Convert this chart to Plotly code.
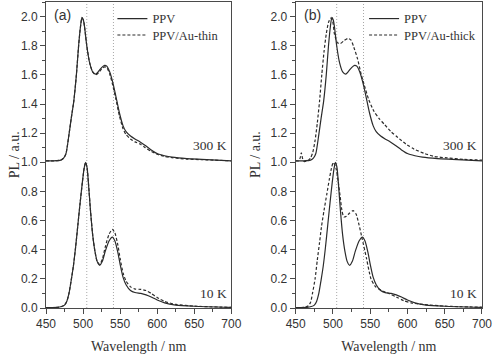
import plotly.graph_objects as go

# ---------------- data ----------------
ppv300_wl = [450, 460, 470, 474, 477, 481, 484, 487.5, 491, 494, 496.5, 498.5, 500.5, 502, 505,
             509, 513, 517, 521, 525, 529, 532, 536, 540, 544, 549, 554, 558, 564, 570,
             577, 584, 592, 600, 610, 620, 640, 660, 700]
ppv300 = [1.01, 1.01, 1.015, 1.03, 1.06, 1.19, 1.30, 1.42, 1.60, 1.80, 1.93, 1.995, 1.975, 1.93, 1.80,
          1.68, 1.62, 1.605, 1.625, 1.65, 1.665, 1.66, 1.62, 1.55, 1.46, 1.34, 1.25, 1.21, 1.18, 1.16,
          1.14, 1.115, 1.085, 1.06, 1.045, 1.035, 1.025, 1.02, 1.01]
thin300 = [1.01, 1.01, 1.015, 1.03, 1.06, 1.19, 1.30, 1.42, 1.60, 1.80, 1.93, 1.99, 1.975, 1.93, 1.80,
           1.68, 1.62, 1.60, 1.615, 1.64, 1.655, 1.65, 1.605, 1.53, 1.44, 1.32, 1.23, 1.19, 1.16, 1.14,
           1.125, 1.10, 1.075, 1.055, 1.04, 1.032, 1.022, 1.018, 1.01]

ppv10_wl = [450, 465, 471, 475, 478, 481, 484, 487, 490, 493, 496, 499, 501.5, 503.5, 505.5,
            507.5, 510, 513, 516, 519, 522.5, 526, 530, 535, 539.5, 543, 547, 550, 554, 558,
            564, 570, 578, 585, 592, 600, 610, 625, 650, 700]
ppv10 = [0.003, 0.004, 0.01, 0.02, 0.045, 0.1, 0.19, 0.29, 0.42, 0.57, 0.72, 0.86, 0.96, 1.0, 0.96,
         0.84, 0.67, 0.5, 0.39, 0.32, 0.293, 0.32, 0.39, 0.46, 0.487, 0.46, 0.38, 0.3, 0.21, 0.16,
         0.12, 0.106, 0.1, 0.09, 0.075, 0.055, 0.035, 0.02, 0.012, 0.004]
thin10 = [0.003, 0.004, 0.01, 0.02, 0.045, 0.1, 0.19, 0.29, 0.42, 0.57, 0.72, 0.86, 0.96, 1.0, 0.96,
          0.84, 0.67, 0.5, 0.39, 0.32, 0.30, 0.335, 0.42, 0.505, 0.54, 0.515, 0.43, 0.34, 0.24, 0.185,
          0.145, 0.13, 0.128, 0.12, 0.1, 0.072, 0.045, 0.025, 0.013, 0.004]

thick300_wl = [450, 454, 456, 457.5, 459, 461, 466, 470, 473, 476, 479, 482, 485, 488, 491,
               494, 497, 499.5, 502, 506, 510, 515, 520, 524, 528, 533, 538, 542, 548, 555,
               562, 569, 578, 587, 598, 609, 623, 636, 653, 675, 700]
thick300 = [1.01, 1.01, 1.03, 1.065, 1.03, 1.005, 1.01, 1.03, 1.07, 1.15, 1.27, 1.42, 1.6, 1.76, 1.88,
            1.96, 1.99, 1.97, 1.88, 1.82, 1.815, 1.835, 1.85, 1.84, 1.79, 1.71, 1.6, 1.53, 1.43, 1.35,
            1.3, 1.26, 1.21, 1.17, 1.125, 1.09, 1.06, 1.04, 1.03, 1.02, 1.015]

thick10_wl = [450, 462, 467, 470, 472.5, 476, 479, 482, 484.5, 488, 491.7, 495, 498, 500.5, 504,
              507, 509.5, 512, 514.5, 518, 522, 527, 531, 535, 539, 545, 551, 557, 565, 575,
              585, 595, 605, 620, 650, 700]
thick10 = [0.003, 0.005, 0.015, 0.04, 0.1, 0.2, 0.33, 0.45, 0.555, 0.67, 0.78, 0.88, 0.96, 1.0, 0.96,
           0.87, 0.77, 0.67, 0.625, 0.63, 0.65, 0.668, 0.645, 0.57, 0.48, 0.34, 0.2, 0.147, 0.12, 0.1,
           0.075, 0.05, 0.035, 0.025, 0.013, 0.005]

marker_lines = [505, 541]
panel_labels = ["(a)", "(b)"]
legend_names = [["PPV", "PPV/Au-thin"], ["PPV", "PPV/Au-thick"]]
temp_labels = ["300 K", "10 K"]
x_ticks = [450, 500, 550, 600, 650, 700]
y_ticks = [0.0, 0.2, 0.4, 0.6, 0.8, 1.0, 1.2, 1.4, 1.6, 1.8, 2.0]
x_title = "Wavelength / nm"
y_title = "PL / a.u."

# ---------------- styling ----------------
W, H = 493, 355
ML, MR, MT, MB = 46, 7, 1, 47
PW = W - ML - MR
PH = H - MT - MB
CURVE = "#2b2b2b"
AX = "#4a4a4a"
TXT = "#333333"
SERIF = "Liberation Serif"
SANS = "Liberation Sans"

def px_x(p):
    return (p - ML) / PW

def px_y(p):
    return (H - MB - p) / PH

dom1 = [0, px_x(233)]
dom2 = [px_x(298), 1]

fig = go.Figure()

def add(xs, ys, xa, ya, dash, name=None, legend=None):
    fig.add_trace(go.Scatter(
        x=xs, y=ys, xaxis=xa, yaxis=ya, mode="lines",
        line=dict(color=CURVE, width=1.2, dash=dash, shape="spline", smoothing=0.6),
        name=name or "", showlegend=legend is not None, legend=legend,
        hoverinfo="skip"))

# panel (a)
add(ppv300_wl, ppv300, "x", "y", "solid", legend_names[0][0], "legend")
add(ppv300_wl, thin300, "x", "y", "3px,2px", legend_names[0][1], "legend2")
add(ppv10_wl, ppv10, "x", "y", "solid")
add(ppv10_wl, thin10, "x", "y", "3px,2px")
# panel (b)
add(ppv300_wl, ppv300, "x2", "y2", "solid", legend_names[1][0], "legend3")
add(thick300_wl, thick300, "x2", "y2", "3px,2px", legend_names[1][1], "legend4")
add(ppv10_wl, ppv10, "x2", "y2", "solid")
add(thick10_wl, thick10, "x2", "y2", "3px,2px")

def xaxis(dom, anchor):
    return dict(domain=dom, anchor=anchor, range=[450, 700], tickvals=x_ticks,
                ticks="outside", ticklen=5, tickwidth=1, tickcolor=AX,
                minor=dict(dtick=25, ticks="outside", ticklen=3, tickcolor=AX, showgrid=False),
                showline=True, linecolor=AX, linewidth=1, mirror=True, showgrid=False,
                zeroline=False, tickfont=dict(family=SANS, size=12, color=TXT),
                title=dict(text=x_title, font=dict(family=SERIF, size=14, color=TXT),
                           standoff=10))

def yaxis(anchor):
    return dict(domain=[0, 1], anchor=anchor, range=[0, 2.1], tickvals=y_ticks,
                tickformat=".1f",
                ticks="outside", ticklen=5, tickwidth=1, tickcolor=AX,
                minor=dict(dtick=0.1, ticks="outside", ticklen=3, tickcolor=AX, showgrid=False),
                showline=True, linecolor=AX, linewidth=1, mirror=True, showgrid=False,
                zeroline=False, tickfont=dict(family=SANS, size=12, color=TXT))

shapes = []
for xa in ["x", "x2"]:
    for v in marker_lines:
        shapes.append(dict(type="line", xref=xa, yref="paper", x0=v, x1=v, y0=0, y1=1,
                           line=dict(color="#a8a8a8", width=1, dash="1px,2px"), layer="below"))

annotations = []
for i, xa in enumerate(["x", "x2"]):
    annotations.append(dict(text=panel_labels[i], xref=f"{xa} domain", yref="paper",
                            x=0.032, y=px_y(14), xanchor="left", yanchor="middle",
                            showarrow=False, font=dict(family=SANS, size=14, color=TXT)))
    annotations.append(dict(text=temp_labels[0], xref=f"{xa} domain", yref="paper",
                            x=0.985, y=px_y(145), xanchor="right", yanchor="middle",
                            showarrow=False, font=dict(family=SERIF, size=13.5, color=TXT)))
    annotations.append(dict(text=temp_labels[1], xref=f"{xa} domain", yref="paper",
                            x=0.985, y=px_y(293), xanchor="right", yanchor="middle",
                            showarrow=False, font=dict(family=SERIF, size=13.5, color=TXT)))
# y-axis titles
for cx in [14, 257]:
    annotations.append(dict(text=y_title, xref="paper", yref="paper", x=px_x(cx), y=0.5,
                            xanchor="center", yanchor="middle", textangle=-90,
                            showarrow=False, font=dict(family=SERIF, size=14, color=TXT)))

def leg(xpx, ypx):
    return dict(x=px_x(xpx), y=px_y(ypx), xanchor="left", yanchor="middle",
                bgcolor="rgba(0,0,0,0)", borderwidth=0,
                font=dict(family=SERIF, size=12.5, color=TXT))

fig.update_layout(
    width=W, height=H, margin=dict(l=ML, r=MR, t=MT, b=MB),
    paper_bgcolor="white", plot_bgcolor="white",
    xaxis=xaxis(dom1, "y"), yaxis=yaxis("x"),
    xaxis2=xaxis(dom2, "y2"), yaxis2=yaxis("x2"),
    shapes=shapes, annotations=annotations,
    legend=leg(113, 18), legend2=leg(113, 34.5),
    legend3=leg(367, 18), legend4=leg(367, 34.5),
)

fig.write_html("out.html")
